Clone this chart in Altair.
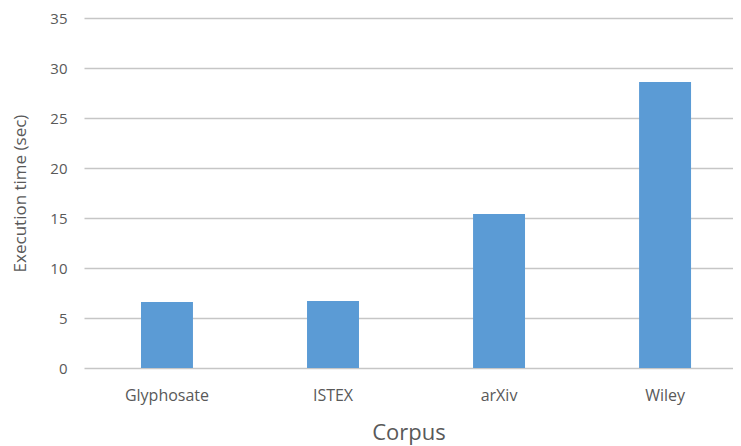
import altair as alt
import pandas as pd

corpora = ["Glyphosate", "ISTEX", "arXiv", "Wiley"]
exec_time = [6.6, 6.7, 15.4, 28.6]

df = pd.DataFrame({"Corpus": corpora, "Time": exec_time})

FONT = "Open Sans"
GRAY = "#595959"

chart = alt.Chart(df).mark_bar(color="#5b9bd5").encode(
    x=alt.X("Corpus:N", sort=corpora,
            scale=alt.Scale(paddingInner=0.687, paddingOuter=0.298, align=0.576),
            axis=alt.Axis(title="Corpus", labelAngle=0, ticks=False, domain=False,
                          labelFontSize=16, labelColor=GRAY, labelPadding=19,
                          titleFontSize=22, titleColor=GRAY, titleFontWeight="normal",
                          titlePadding=19, labelFont=FONT, titleFont=FONT)),
    y=alt.Y("Time:Q", scale=alt.Scale(domain=[0, 35], nice=False),
            axis=alt.Axis(title="Execution time (sec)", values=[0, 5, 10, 15, 20, 25, 30, 35],
                          ticks=False, domain=False, labelFontSize=15, labelColor=GRAY,
                          labelPadding=17, titleFontSize=17, titleColor=GRAY,
                          titleFontWeight="normal", titlePadding=20,
                          labelFont=FONT, titleFont=FONT,
                          gridColor="#c6c6c6", gridWidth=1.6)),
).properties(
    width=649, height=350,
    autosize=alt.AutoSizeParams(type="none"),
    padding={"top": 10, "left": 76, "right": 0, "bottom": 78},
).configure_view(stroke=None)

chart.save("out.html", embed_options={"renderer": "svg", "actions": False})
